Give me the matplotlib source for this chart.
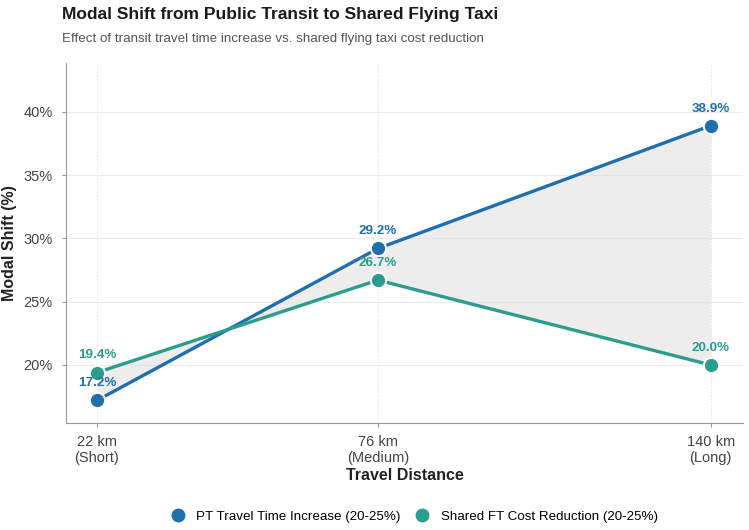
import matplotlib.pyplot as plt
from matplotlib.lines import Line2D

# Data
distance_km = [22, 76, 140]
tick_labels = ["22 km\n(Short)", "76 km\n(Medium)", "140 km\n(Long)"]
pt_time = [17.2, 29.2, 38.9]
ft_cost = [19.4, 26.7, 20.0]
series_names = ["PT Travel Time Increase (20-25%)", "Shared FT Cost Reduction (20-25%)"]
y_ticks = [20, 25, 30, 35, 40]

blue = "#1f6fae"
teal = "#2a9d8f"

plt.rcParams["font.family"] = ["Liberation Sans", "DejaVu Sans"]

fig = plt.figure(figsize=(7.49, 5.30), dpi=100)
ax = fig.add_axes([66 / 749, 1 - 422.7 / 530, 677 / 749, (422.7 - 63) / 530])

# shaded gap between the two curves
ax.fill_between(distance_km, pt_time, ft_cost, color="#dcdcdc", alpha=0.5, lw=0, zorder=1)

for vals, col in [(pt_time, blue), (ft_cost, teal)]:
    ax.plot(distance_km, vals, color=col, lw=2.4, zorder=3, solid_capstyle="round")
    ax.scatter(distance_km, vals, s=120, color=col, edgecolor="white", linewidth=1.4, zorder=4)
    for x, v in zip(distance_km, vals):
        ax.annotate(f"{v:.1f}%", (x, v), xytext=(0, 8), textcoords="offset points",
                    ha="center", va="bottom", color=col, fontsize=9.7, fontweight="bold", zorder=5)

ax.set_xlim(16.04, 146.2)
ax.set_ylim(15.44, 43.85)
ax.set_xticks(distance_km)
ax.set_xticklabels(tick_labels)
ax.set_yticks(y_ticks)
ax.set_yticklabels([f"{t}%" for t in y_ticks])
ax.grid(True, axis="y", color="#ebebeb", lw=0.8, zorder=0)
ax.grid(True, axis="x", color="#e4e4e4", lw=0.6, ls=(0, (2, 2)), zorder=0)
ax.set_axisbelow(True)

for s in ["top", "right"]:
    ax.spines[s].set_visible(False)
for s in ["left", "bottom"]:
    ax.spines[s].set_color("#999999")
    ax.spines[s].set_linewidth(0.8)
ax.tick_params(axis="both", labelsize=10.5, labelcolor="#444444", color="#999999", length=3)
ax.tick_params(axis="x", pad=6)
ax.tick_params(axis="y", pad=6.5)

ax.set_xlabel("Travel Distance", fontsize=11.5, fontweight="bold", color="#222222", labelpad=2)
ax.set_ylabel("Modal Shift (%)", fontsize=11.5, fontweight="bold", color="#222222", labelpad=5)

fig.text(0.083, 0.972, "Modal Shift from Public Transit to Shared Flying Taxi",
         fontsize=12.5, fontweight="bold", color="#1a1a1a", va="center")
fig.text(0.083, 0.926, "Effect of transit travel time increase vs. shared flying taxi cost reduction",
         fontsize=9.6, color="#555555", va="center")

handles = [Line2D([], [], marker="o", ls="", markersize=11, color=c, markeredgecolor="white")
           for c in (blue, teal)]
fig.legend(handles, series_names, loc="center", bbox_to_anchor=(0.549, 0.025), ncol=2,
           frameon=False, fontsize=9.6, handletextpad=0.4, columnspacing=0.6)

fig.savefig("out.png", dpi=100)
